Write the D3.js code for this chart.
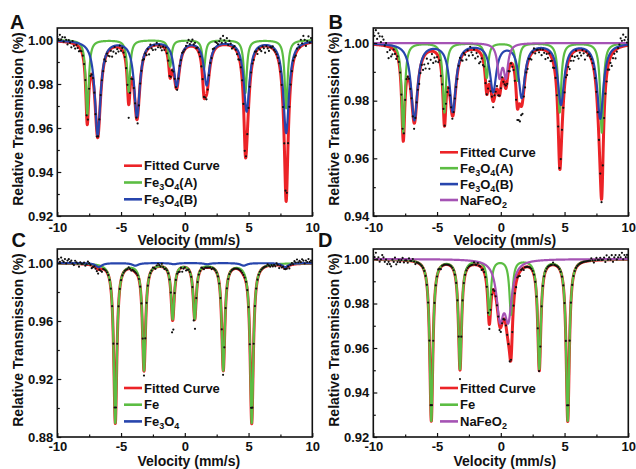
<!DOCTYPE html>
<html><head><meta charset="utf-8">
<script src="https://cdn.jsdelivr.net/npm/d3@7"></script>
<style>
body{margin:0;background:#fff}
svg{display:block}
text{font-family:"Liberation Sans",Arial,Helvetica,sans-serif;font-weight:bold;fill:#111}
</style>
</head><body>
<svg id="chart" width="636" height="469"></svg>
<script>
// ---------------- data ----------------
const xTicks = [-10, -5, 0, 5, 10];
const xMinorTicks = [-7.5, -2.5, 2.5, 7.5];
const yTicksA = [0.92, 0.94, 0.96, 0.98, 1.00];
const yMinorA = [0.93, 0.95, 0.97, 0.99];
const yTicksB = [0.94, 0.96, 0.98, 1.00];
const yMinorB = [0.95, 0.97, 0.99];
const yTicksC = [0.88, 0.92, 0.96, 1.00];
const yMinorC = [0.90, 0.94, 0.98];
const yTicksD = [0.92, 0.94, 0.96, 0.98, 1.00];
const yMinorD = [0.93, 0.95, 0.97, 0.99];

const panelLetters = ["A", "B", "C", "D"];
const xTitle = "Velocity (mm/s)";
const yTitle = "Relative Transmission (%)";
const fitName = "Fitted Curve";

// Fitted sub-spectra: Lorentzian lines (position mm/s, depth, half width)
// Panel A
const aGreenName = "Fe_3O_4(A)";
const aGreenPos = [-7.65, -4.4, -1.15, 1.5, 4.75, 7.95];
const aGreenDepth = [0.034, 0.0235, 0.012, 0.013, 0.024, 0.031];
const aGreenHW = 0.14;
const aBlueName = "Fe_3O_4(B)";
const aBluePos = [-6.83, -3.75, -0.64, 1.72, 4.85, 7.95];
const aBlueDepth = [0.043, 0.0345, 0.0205, 0.020, 0.032, 0.042];
const aBlueHW = 0.27;
// Panel B
const bGreenName = "Fe_3O_4(A)";
const bGreenPos = [-7.65, -4.42, -1.1, 1.3, 4.62, 7.92];
const bGreenDepth = [0.031, 0.024, 0.012, 0.013, 0.024, 0.031];
const bGreenHW = 0.15;
const bBlueName = "Fe_3O_4(B)";
const bBluePos = [-6.78, -3.77, -0.6, 1.64, 4.72, 7.8];
const bBlueDepth = [0.0265, 0.0235, 0.0165, 0.0185, 0.021, 0.026];
const bBlueHW = 0.3;
const bPurpleName = "NaFeO_2";
const bPurplePos = [-0.1, 0.4];
const bPurpleDepth = [0.011, 0.011];
const bPurpleHW = 0.2;
// Panel C
const cGreenName = "Fe";
const cGreenPos = [-5.45, -3.2, -0.95, 0.78, 3.02, 5.25];
const cGreenDepth = [0.110, 0.0735, 0.038, 0.038, 0.0735, 0.110];
const cGreenHW = 0.15;
const cBlueName = "Fe_3O_4";
const cBluePos = [-6.75, -3.88, -0.85, 1.75, 4.62, 7.88];
const cBlueDepth = [0.0028, 0.0018, 0.0008, 0.0008, 0.0018, 0.0028];
const cBlueHW = 0.3;
// Panel D
const dGreenName = "Fe";
const dGreenPos = [-5.45, -3.2, -0.9, 0.8, 3.02, 5.25];
const dGreenDepth = [0.0725, 0.049, 0.0245, 0.0245, 0.049, 0.0725];
const dGreenHW = 0.15;
const dPurpleName = "NaFeO_2";
const dPurplePos = [-0.06, 0.59];
const dPurpleDepth = [0.024, 0.024];
const dPurpleHW = 0.33;

// Measured points: channel velocities -10..10 step 0.1, deviation from fit (x 0.001)
const channelStart = -10, channelStep = 0.1, channelCount = 201;
const aResid = [2,1,3,1,2,0,2,1,-1,1, 0,-2,1,-1,-2,0,-1,-2,-1,0, 0,0,1,0,-1,0,0,0,1,0,
  -1,-2,0,0,1,0,-1,1,-2,0, -2,-3,-1,-4,-2,0,-3,-1,-2,1, -1,1,0,0,-1,0,-6,-1,0,0,
  0,0,0,-3,-2,0,0,1,-1,0, -2,0,-3,1,-1,-2,0,-2,1,-1, 0,-1,-2,0,-1,1,0,0,-1,0,
  0,0,0,0,-1,0,1,0,1,0, 0,1,2,3,1,2,3,1,2,0, 1,0,0,-1,0,0,0,-2,-1,0,
  1,0,2,1,3,2,1,2,3,1, 4,2,1,3,0,2,1,-1,0,1, 0,-1,-2,0,0,0,0,-4,0,0,
  0,0,0,0,-1,1,0,-2,0,-1, -2,0,-1,-3,0,-1,-2,0,0,1, 0,0,0,0,0,0,0,0,0,0,
  -1,0,0,0,0,1,0,-1,1,2, 0,3,1,4,2,-1,1,3,0,2,1];
const bResid = [4,3,5,2,4,3,1,3,2,0, 1,-2,-4,-1,-3,-2,0,-1,-2,0, 0,0,0,1,0,0,1,0,0,-1,
  0,-1,-2,0,0,-1,-3,-2,-1,-4, -3,-5,-2,-4,-6,-3,-1,-4,-2,-3, -1,-2,0,-3,-1,0,0,0,-1,0,
  0,0,-1,0,0,-1,-2,0,1,-1, -2,0,-1,-3,0,-2,1,-1,-2,0, -3,-1,-2,-4,-3,-1,-2,0,-1,0,
  0,1,-1,0,-2,1,0,1,-1,0, 0,1,-1,0,1,-1,0,-2,0,-1, -1,-2,-3,-4,-5,-6,-3,-4,-2,-3,
  -1,-2,0,-1,-2,0,1,-1,0,0, -1,0,-2,0,-1,-3,-1,-2,0,-2, -1,-2,0,0,0,0,-1,0,0,-1,
  -2,-1,-3,-2,-4,-2,-1,-3,-2,0, -2,-3,-1,-2,0,-1,-3,0,-1,0, 0,0,0,0,0,0,0,0,0,-1,
  0,0,-1,-2,-1,-3,-2,-4,-2,-1, -3,-1,0,1,3,2,4,2,3,1,2];
const cResid = [2,3,1,4,2,1,3,0,2,3, 1,2,0,-1,2,1,0,-2,1,0, 0,1,-1,0,2,1,0,-2,-1,0,
  -1,-2,-3,0,-1,-2,0,0,0,0, 0,0,0,0,0,0,0,0,0,0, 0,0,0,0,0,0,1,0,-1,0,
  0,0,0,0,0,0,0,0,-3,0, 0,0,0,0,0,1,0,-1,1,2, 1,0,2,0,-1,0,0,0,0,0,
  -12,-10,0,0,0,-1,-2,0,-3,-1, 0,-2,-1,0,0,0,0,-9,-7,0, 0,0,0,1,0,-1,0,0,0,0,
  0,-1,0,0,0,0,0,0,0,0, -4,0,0,0,0,0,0,0,0,0, 0,0,0,0,0,0,0,0,0,0,
  0,0,0,0,0,0,0,0,0,0, 0,0,0,0,0,1,0,-1,0,-1, 0,-1,1,0,-2,0,-1,0,-1,-1,
  -1,0,-2,0,1,0,2,1,3,1, 2,1,3,2,0,2,1,3,1,2,1];
const dResid = [2,1,3,0,1,-1,0,2,1,-1, 0,-2,-1,-2,-3,0,-1,1,-2,-1, 0,-1,0,1,-1,0,0,-1,1,0,
  0,1,0,-1,0,0,0,0,0,0, 0,0,0,0,0,0,0,0,0,0, 0,1,0,-1,0,0,0,0,0,0,
  0,0,0,0,0,0,0,0,-4,0, 0,0,0,0,0,0,0,0,0,1, 0,0,1,0,0,-1,0,0,0,0,
  -3,-2,0,0,0,0,0,0,0,-2, -2,0,0,0,0,0,0,-3,0,0, 0,-1,-2,0,-1,-2,0,0,-1,0,
  0,0,0,0,0,0,0,0,0,0, -1,0,0,0,0,0,0,0,0,0, 0,1,0,0,0,0,0,0,0,0,
  0,0,0,0,0,0,0,0,0,0, 0,0,0,0,0,0,0,0,0,0, 0,1,0,-1,0,1,0,0,1,0,
  0,1,-1,2,0,1,0,2,-1,1, 2,0,1,2,1,3,0,2,1,2,1];

// ---------------- styles / layout ----------------
const RED = "#ec2327", GREEN = "#5cbd43", BLUE = "#2745ad", PURPLE = "#a553b4";

const panels = [
  { letter: panelLetters[0], box: {l: 57.3, r: 312.3, t: 28, b: 216}, yDomain: [0.92, 1.00545],
    yTicks: yTicksA, yMinor: yMinorA, resid: aResid,
    comps: [
      {name: aGreenName, color: GREEN, pos: aGreenPos, depth: aGreenDepth, hw: aGreenHW},
      {name: aBlueName, color: BLUE, pos: aBluePos, depth: aBlueDepth, hw: aBlueHW}],
    legend: {x0: 124, x1: 142, tx: 144, y0: 165.7, dy: 16.8},
    letterPos: [10, 29.3], xLabOff: 6.5, xTitleY: 245, yTitleX: 23 },
  { letter: panelLetters[1], box: {l: 373.3, r: 628.3, t: 28, b: 216}, yDomain: [0.94, 1.0052],
    yTicks: yTicksB, yMinor: yMinorB, resid: bResid,
    comps: [
      {name: bGreenName, color: GREEN, pos: bGreenPos, depth: bGreenDepth, hw: bGreenHW},
      {name: bBlueName, color: BLUE, pos: bBluePos, depth: bBlueDepth, hw: bBlueHW},
      {name: bPurpleName, color: PURPLE, pos: bPurplePos, depth: bPurpleDepth, hw: bPurpleHW}],
    legend: {x0: 440, x1: 458, tx: 460, y0: 152.3, dy: 15.9},
    letterPos: [328.5, 28.5], xLabOff: 6.5, xTitleY: 245, yTitleX: 339 },
  { letter: panelLetters[2], box: {l: 57.3, r: 312.3, t: 249, b: 437}, yDomain: [0.88, 1.00966],
    yTicks: yTicksC, yMinor: yMinorC, resid: cResid,
    comps: [
      {name: cGreenName, color: GREEN, pos: cGreenPos, depth: cGreenDepth, hw: cGreenHW},
      {name: cBlueName, color: BLUE, pos: cBluePos, depth: cBlueDepth, hw: cBlueHW}],
    legend: {x0: 124, x1: 142, tx: 144, y0: 388, dy: 16.7},
    letterPos: [11.5, 247], xLabOff: 4.5, xTitleY: 466, yTitleX: 23 },
  { letter: panelLetters[3], box: {l: 373.3, r: 628.3, t: 249, b: 437}, yDomain: [0.92, 1.0045],
    yTicks: yTicksD, yMinor: yMinorD, resid: dResid,
    comps: [
      {name: dGreenName, color: GREEN, pos: dGreenPos, depth: dGreenDepth, hw: dGreenHW},
      {name: dPurpleName, color: PURPLE, pos: dPurplePos, depth: dPurpleDepth, hw: dPurpleHW}],
    legend: {x0: 440, x1: 458, tx: 460, y0: 388, dy: 16.7},
    letterPos: [318, 247], xLabOff: 4.5, xTitleY: 466, yTitleX: 339 }
];

// ---------------- helpers ----------------
function absorb(c, v) {
  let s = 0;
  for (let i = 0; i < c.pos.length; i++) {
    const dx = v - c.pos[i];
    s += c.depth[i] * c.hw * c.hw / (dx * dx + c.hw * c.hw);
  }
  return s;
}
function addRichText(sel, str) {
  const parts = str.split(/_(\d)/);
  let shift = 0;
  parts.forEach((p, i) => {
    if (!p) return;
    if (i % 2 === 1) {
      sel.append("tspan").attr("font-size", 9).attr("dy", 3 - shift).text(p);
      shift = 3;
    } else {
      sel.append("tspan").attr("font-size", 13).attr("dy", -shift).text(p);
      shift = 0;
    }
  });
}

const svg = d3.select("#chart");
svg.append("rect").attr("width", 636).attr("height", 469).attr("fill", "#fff");
const sampleV = d3.range(-10, 10.0001, 0.01);
const channelV = d3.range(channelCount).map(i => channelStart + i * channelStep);

panels.forEach((p, pi) => {
  const b = p.box;
  const x = d3.scaleLinear().domain([-10, 10]).range([b.l, b.r]);
  const y = d3.scaleLinear().domain(p.yDomain).range([b.b, b.t]);
  const g = svg.append("g");
  const clipId = "clip" + pi;
  g.append("clipPath").attr("id", clipId).append("rect")
    .attr("x", b.l).attr("y", b.t).attr("width", b.r - b.l).attr("height", b.b - b.t);

  const fit = v => 1 - d3.sum(p.comps, c => absorb(c, v));
  const line = d3.line().x(d => x(d[0])).y(d => y(d[1]));
  const plot = g.append("g").attr("clip-path", `url(#${clipId})`);

  plot.append("path").datum(sampleV.map(v => [v, fit(v)]))
    .attr("d", line).attr("fill", "none").attr("stroke", RED).attr("stroke-width", 3.0)
    .attr("stroke-linejoin", "round");
  p.comps.forEach(c => {
    plot.append("path").datum(sampleV.map(v => [v, 1 - absorb(c, v)]))
      .attr("d", line).attr("fill", "none").attr("stroke", c.color).attr("stroke-width", 2.2)
      .attr("stroke-linejoin", "round");
  });
  plot.selectAll("circle.pt").data(channelV.map((v, i) => [v, fit(v) + p.resid[i] * 0.001]))
    .join("circle").attr("class", "pt")
    .attr("cx", d => x(d[0])).attr("cy", d => y(d[1])).attr("r", 1.1).attr("fill", "#111");

  // axes (inward ticks)
  const fmtY = d3.format(".2f");
  const ax = g.append("g").attr("transform", `translate(0,${b.b})`)
    .call(d3.axisBottom(x).tickValues(xTicks).tickSize(-4).tickPadding(p.xLabOff)
      .tickFormat(d => String(d)));
  ax.select(".domain").remove();
  const axm = g.append("g").attr("transform", `translate(0,${b.b})`)
    .call(d3.axisBottom(x).tickValues(xMinorTicks).tickSize(-2.5).tickFormat(""));
  axm.select(".domain").remove();
  axm.selectAll("text").remove();
  const ay = g.append("g").attr("transform", `translate(${b.l},0)`)
    .call(d3.axisLeft(y).tickValues(p.yTicks).tickSize(-4).tickPadding(4).tickFormat(fmtY));
  ay.select(".domain").remove();
  const aym = g.append("g").attr("transform", `translate(${b.l},0)`)
    .call(d3.axisLeft(y).tickValues(p.yMinor).tickSize(-2.5).tickFormat(""));
  aym.select(".domain").remove();
  aym.selectAll("text").remove();
  g.selectAll(".tick line").attr("stroke", "#111").attr("stroke-width", 1.2);
  g.selectAll(".tick text").attr("font-size", 13)
    .attr("font-family", '"Liberation Sans",Arial,sans-serif').attr("font-weight", "bold").attr("fill", "#111");

  g.append("rect").attr("x", b.l).attr("y", b.t).attr("width", b.r - b.l).attr("height", b.b - b.t)
    .attr("fill", "none").attr("stroke", "#111").attr("stroke-width", 1.6);

  // titles
  g.append("text").attr("x", (b.l + b.r) / 2 + 4).attr("y", p.xTitleY)
    .attr("text-anchor", "middle").attr("font-size", 14).text(xTitle);
  g.append("text").attr("transform", `translate(${p.yTitleX},${(b.t + b.b) / 2 - 3}) rotate(-90)`)
    .attr("text-anchor", "middle").attr("font-size", 14).text(yTitle);
  g.append("text").attr("x", p.letterPos[0]).attr("y", p.letterPos[1])
    .attr("font-size", 20).text(p.letter);

  // legend
  const items = [{name: fitName, color: RED}].concat(p.comps);
  items.forEach((it, k) => {
    const yy = p.legend.y0 + k * p.legend.dy;
    g.append("line").attr("x1", p.legend.x0).attr("x2", p.legend.x1).attr("y1", yy).attr("y2", yy)
      .attr("stroke", it.color).attr("stroke-width", 2.6);
    const t = g.append("text").attr("x", p.legend.tx).attr("y", yy + 4.6).attr("font-size", 13);
    addRichText(t, it.name);
  });
});
</script>
</body></html>
